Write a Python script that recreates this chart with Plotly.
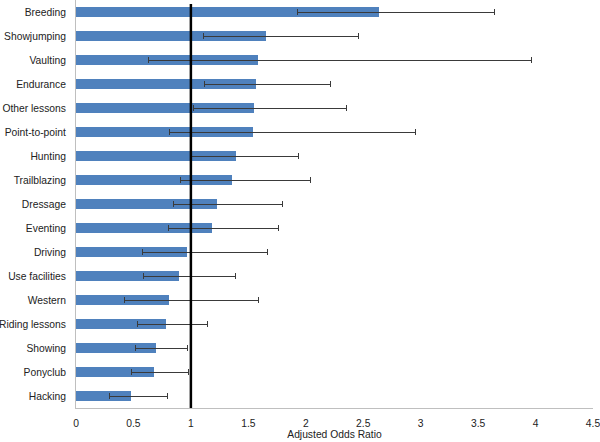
import plotly.graph_objects as go

categories = ["Breeding", "Showjumping", "Vaulting", "Endurance", "Other lessons",
              "Point-to-point", "Hunting", "Trailblazing", "Dressage", "Eventing",
              "Driving", "Use facilities", "Western", "Riding lessons", "Showing",
              "Ponyclub", "Hacking"]
odds_ratio = [2.64, 1.65, 1.58, 1.57, 1.55, 1.54, 1.39, 1.36, 1.23, 1.18,
              0.97, 0.90, 0.81, 0.78, 0.70, 0.68, 0.475]
ci_lower = [1.925, 1.113, 0.629, 1.119, 1.026, 0.812, 1.006, 0.913, 0.852, 0.803,
            0.577, 0.591, 0.420, 0.539, 0.516, 0.487, 0.290]
ci_upper = [3.646, 2.455, 3.962, 2.211, 2.357, 2.951, 1.937, 2.038, 1.797, 1.762,
            1.664, 1.391, 1.586, 1.148, 0.971, 0.980, 0.794]
x_ticks = [0, 0.5, 1, 1.5, 2, 2.5, 3, 3.5, 4, 4.5]

err_plus = [u - v for u, v in zip(ci_upper, odds_ratio)]
err_minus = [v - l for v, l in zip(odds_ratio, ci_lower)]

fig = go.Figure()
fig.add_trace(go.Bar(
    y=categories, x=odds_ratio, orientation="h",
    marker=dict(color="#4F81BD", line=dict(width=0)),
    width=0.42,
    error_x=dict(type="data", symmetric=False, array=err_plus, arrayminus=err_minus,
                 color="#3a3a3a", thickness=1, width=3),
))

fig.add_shape(type="line", xref="x", yref="paper", x0=1, x1=1, y0=0, y1=0.99,
              line=dict(color="black", width=2.5))

fig.update_layout(
    width=600, height=442,
    margin=dict(l=76, r=7, t=0, b=34, autoexpand=False),
    plot_bgcolor="white", paper_bgcolor="white",
    showlegend=False,
    font=dict(family="Liberation Sans, Arial, sans-serif", size=10.3, color="#222"),
    bargap=0,
)
fig.update_xaxes(
    range=[0, 4.5001], tickvals=x_ticks, ticktext=[str(t) for t in x_ticks],
    showgrid=False, zeroline=False, showline=True, linecolor="#bfbfbf", linewidth=1,
    ticks="", ticklabelstandoff=6, automargin=False, ticklabeloverflow="allow",
    title=dict(text="Adjusted Odds Ratio", font=dict(size=10.3), standoff=2),
)
fig.update_yaxes(
    categoryorder="array", categoryarray=categories[::-1],
    autorange=False, range=[-0.5, 16.5],
    showgrid=False, zeroline=False, showline=True, linecolor="#bfbfbf", linewidth=1,
    ticks="", ticklabelstandoff=7, automargin=False, ticklabeloverflow="allow",
)

fig.write_html("out.html", config={"displayModeBar": False},
               post_script="document.body.style.margin='0';document.body.style.overflow='hidden';")
